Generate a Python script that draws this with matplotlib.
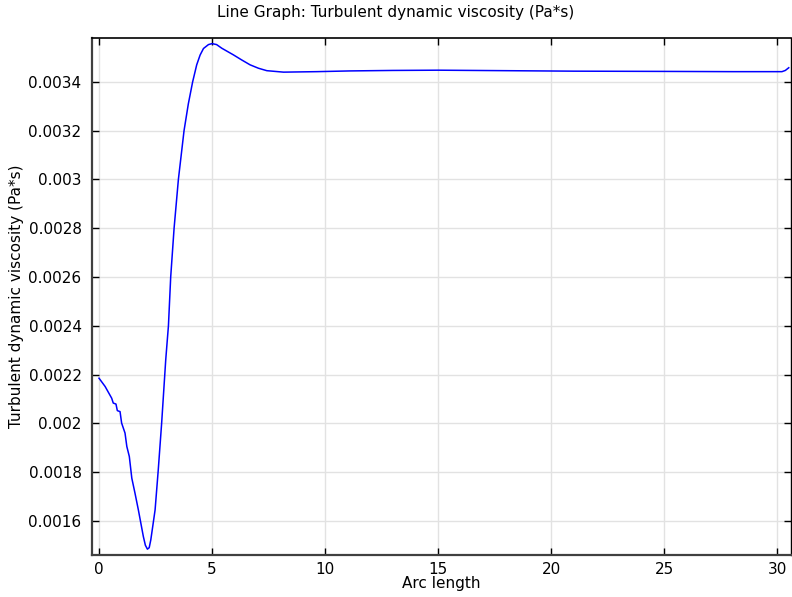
import numpy as np
import matplotlib
matplotlib.use("Agg")
import matplotlib.pyplot as plt

arc_length = [0.0, 0.27, 0.56, 0.63, 0.75, 0.81, 0.93, 1.0, 1.15, 1.23, 1.34, 1.45, 1.59,
              1.74, 1.96, 2.05, 2.14, 2.22, 2.29, 2.38, 2.48, 2.62, 2.77, 2.95, 3.02, 3.07,
              3.17, 3.32, 3.51, 3.76, 3.95, 4.14, 4.32, 4.47, 4.62, 4.84, 5.0, 5.2, 5.43,
              5.94, 6.31, 6.68, 7.05, 7.42, 8.16, 9.63, 11.1, 13.0, 15.0, 18.0, 21.0, 25.0,
              28.0, 30.2, 30.35, 30.5]
viscosity = [0.002185, 0.002151, 0.002103, 0.002083, 0.002079, 0.002052, 0.002048, 0.002001,
             0.00196, 0.001905, 0.001864, 0.001775, 0.001714, 0.001645, 0.001536, 0.0015,
             0.001484, 0.00149, 0.001522, 0.00158, 0.001645, 0.001809, 0.002001, 0.00226,
             0.002342, 0.0024, 0.0026, 0.0028, 0.003, 0.0032, 0.00331, 0.0034, 0.00347,
             0.00351, 0.003537, 0.003553, 0.003557, 0.003553, 0.003538, 0.003511, 0.00349,
             0.00347, 0.003456, 0.003446, 0.00344, 0.003442, 0.003445, 0.003447, 0.003448,
             0.003446, 0.003444, 0.003443, 0.003442, 0.003442, 0.003447, 0.003458]

x_ticks = [0, 5, 10, 15, 20, 25, 30]
y_ticks = [0.0016, 0.0018, 0.002, 0.0022, 0.0024, 0.0026, 0.0028, 0.003, 0.0032, 0.0034]
y_tick_labels = ["0.0016", "0.0018", "0.002", "0.0022", "0.0024", "0.0026", "0.0028",
                 "0.003", "0.0032", "0.0034"]

fig = plt.figure(figsize=(7.92, 5.97), dpi=100)
ax = fig.add_axes([92/792, 1 - 555/597, (791-92)/792, (555-38)/597])
ax.plot(arc_length, viscosity, color="#0000ff", lw=1.1)
ax.set_xlim(-0.31, 30.6)
ax.set_ylim(0.00146, 0.00358)
ax.set_xticks(x_ticks)
ax.set_xticklabels([str(v) for v in x_ticks])
ax.set_yticks(y_ticks)
ax.set_yticklabels(y_tick_labels)
ax.grid(True, color="#e2e2e2", lw=1)
ax.tick_params(direction="in", length=5, width=1, labelsize=11, top=True, right=True,
               color="black", labelcolor="black")
ax.tick_params(axis="y", pad=7.5)
ax.tick_params(axis="x", pad=5)
for s in ["left", "bottom"]:
    ax.spines[s].set_color("#404040")
    ax.spines[s].set_linewidth(1.6)
ax.spines["top"].set_linewidth(1.2)
ax.spines["right"].set_linewidth(1.0)
ax.set_xlabel("Arc length", fontsize=11, labelpad=-1)
ax.set_ylabel("Turbulent dynamic viscosity (Pa*s)", fontsize=11, labelpad=3)
fig.text(0.5, 1 - 12/597, "Line Graph: Turbulent dynamic viscosity (Pa*s)", ha="center",
         va="center", fontsize=11)
fig.savefig("out.png", dpi=100)
